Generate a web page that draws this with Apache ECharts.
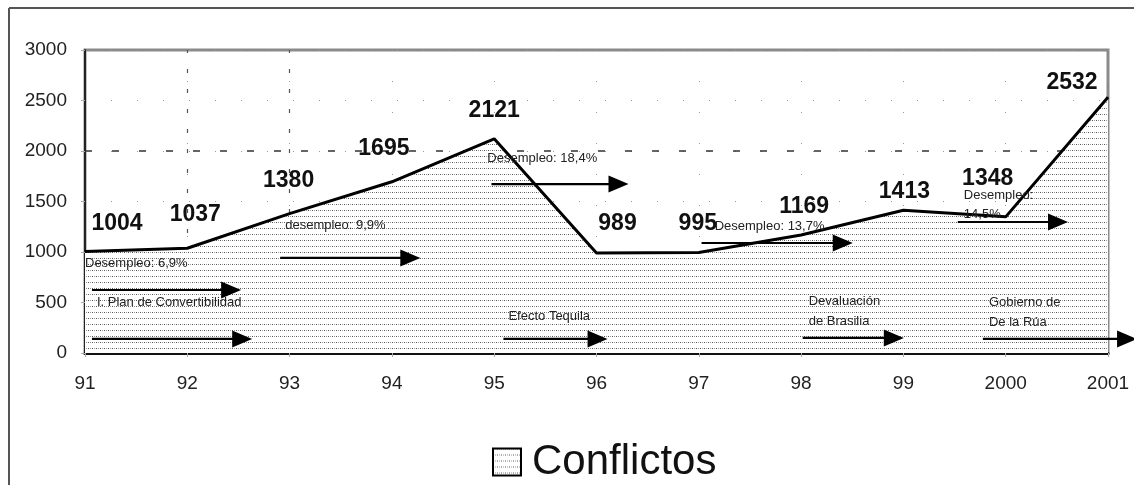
<!DOCTYPE html>
<html><head><meta charset="utf-8">
<script src="https://cdn.jsdelivr.net/npm/echarts@6/dist/echarts.min.js"></script>
<style>html,body{margin:0;padding:0;background:#fff}#c{width:1134px;height:485px}</style>
</head><body><div id="c"></div>
<script>
// ---- data ----
const categories = ['91','92','93','94','95','96','97','98','99','2000','2001'];
const conflictos = [1004, 1037, 1380, 1695, 2121, 989, 995, 1169, 1413, 1348, 2532];
const seriesName = 'Conflictos';
const yMin = 0, yMax = 3000, yStep = 500;

// annotation texts and their anchors (data space: [x index, value])
const noteTexts = ['Desempleo: 6,9%', 'I. Plan de Convertibilidad', 'desempleo: 9,9%', 'Desempleo: 18,4%',
  'Efecto Tequila', 'Desempleo: 13,7%', 'Devaluación', 'de Brasilia', 'Desempleo:', '14,5%', 'Gobierno de', 'De la Rúa'];
const noteAnchors = [[0.0, 891], [0.117, 505], [1.957, 1267], [3.933, 1931],
  [4.139, 366], [6.155, 1257], [7.074, 515], [7.074, 317], [8.591, 1564], [8.591, 1376], [8.836, 505], [8.836, 307]];
// arrows: [x start, x tip, value]
const arrowStartX = [0.068, 0.068, 1.908, 3.973, 4.090, 6.027, 7.016, 8.532, 8.777];
const arrowTipX   = [1.526, 1.634, 3.278, 5.313, 5.108, 7.505, 8.004, 9.609, 10.284];
const arrowY      = [624,   139,   941,   1673,  139,   1089,  149,   1297,  139];

// ---- style ----
const labelOffsets = [[32,-28],[8,-34],[-1,-33],[-8,-33],[0,-28],[21,-29],[-1,-29],[3,-28],[1,-19],[-18,-38],[-36,-15]];
const FONT = '"Liberation Sans", Arial, sans-serif';

function makePattern(){
  const c = document.createElement('canvas'); c.width = 4; c.height = 6;
  const g = c.getContext('2d');
  g.fillStyle = '#fff'; g.fillRect(0,0,4,6);
  g.fillStyle = '#555'; g.fillRect(0,0,1,1);
  g.fillStyle = '#999'; g.fillRect(2,0,1,1);
  return c;
}
const pattern = { image: makePattern(), repeat: 'repeat' };

const chart = echarts.init(document.getElementById('c'), null, {renderer:'canvas'});

const option = {
  animation: false,
  backgroundColor: '#fff',
  grid: { left: 85, right: 26, top: 50, bottom: 132, show: true, backgroundColor: '#fff',
          borderColor: '#8a8a8a', borderWidth: 3 },
  legend: {
    left: 487, top: 433, itemWidth: 28, itemHeight: 27, icon: 'rect',
    data: [{ name: seriesName, icon: 'rect', itemStyle: { color: pattern, borderColor: '#000', borderWidth: 2 } }],
    textStyle: { fontSize: 42, fontFamily: FONT, color: '#111', lineHeight: 48, padding: [0,0,0,6] }
  },
  xAxis: {
    type: 'value', min: 0, max: categories.length - 1, interval: 1,
    axisLine: { show: true, lineStyle: { color: '#111', width: 3 } },
    axisTick: { show: true, length: 4, lineStyle: { color: '#aaa' } },
    axisLabel: { formatter: v => categories[v] ?? '', fontSize: 19, fontFamily: FONT, color: '#222', margin: 21 },
    splitLine: { show: true, lineStyle: { color: '#999', type: [1, 30] } }
  },
  yAxis: {
    type: 'value', min: yMin, max: yMax, interval: yStep,
    axisLine: { show: true, lineStyle: { color: '#222', width: 2 } },
    axisTick: { show: true, length: 4, lineStyle: { color: '#aaa' } },
    axisLabel: { formatter: v => String(v), fontSize: 19, fontFamily: FONT, color: '#222', margin: 18 },
    splitLine: { show: true, lineStyle: { color: '#999', type: [1, 25] } }
  },
  series: [{
    name: seriesName, type: 'line',
    data: conflictos.map((v, i) => ({ value: [i, v], label: { offset: labelOffsets[i] } })),
    showSymbol: true, symbol: 'circle', symbolSize: 1,
    itemStyle: { color: '#000' },
    lineStyle: { color: '#000', width: 3 },
    areaStyle: { color: pattern, opacity: 1 },
    label: { show: true, position: 'inside', fontSize: 23, fontWeight: 'bold', fontFamily: FONT, color: '#111',
             formatter: p => p.value[1] },
    markLine: {
      silent: true, symbol: 'none', z: 1, label: { show: false },
      data: [
        { yAxis: 2000, lineStyle: { color: '#333', type: [7, 20], width: 1.5 } },
        { xAxis: 1, lineStyle: { color: '#555', type: [4, 16], width: 1.2 } },
        { xAxis: 2, lineStyle: { color: '#555', type: [4, 16], width: 1.2 } }
      ]
    },
    z: 2
  }]
};
chart.setOption(option);

function toPx(p){ return chart.convertToPixel({ xAxisIndex: 0, yAxisIndex: 0 }, p); }
const graphics = [
  { type: 'line', shape: { x1: 9, y1: 8, x2: 1134, y2: 8 }, style: { stroke: '#555', lineWidth: 2 }, z: 100 },
  { type: 'line', shape: { x1: 9, y1: 8, x2: 9, y2: 485 }, style: { stroke: '#555', lineWidth: 2 }, z: 100 }
];
noteTexts.forEach((t, i) => {
  const p = toPx(noteAnchors[i]);
  graphics.push({ type: 'text', x: p[0], y: p[1], z: 50,
    style: { text: t, font: '13px ' + FONT, fill: '#222', verticalAlign: 'middle', align: 'left' } });
});
arrowY.forEach((v, i) => {
  const a = toPx([arrowStartX[i], v]);
  const b = toPx([arrowTipX[i], v]);
  const L = 20, H = 8.5;
  graphics.push({ type: 'line', z: 40, shape: { x1: a[0], y1: a[1], x2: b[0] - L + 2, y2: b[1] },
    style: { stroke: '#000', lineWidth: 2.2 } });
  graphics.push({ type: 'polygon', z: 40, shape: { points: [[b[0], b[1]], [b[0] - L, b[1] - H], [b[0] - L, b[1] + H]] },
    style: { fill: '#000' } });
});
chart.setOption({ graphic: graphics });
</script>
</body></html>
